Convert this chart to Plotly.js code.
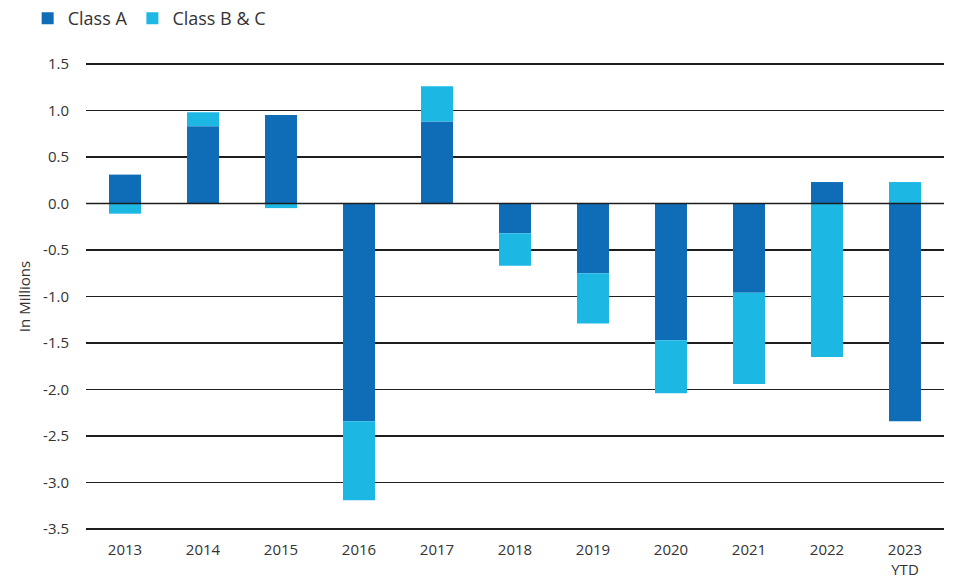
<!DOCTYPE html>
<html>
<head>
<meta charset="utf-8">
<script src="https://cdn.plot.ly/plotly-3.0.1.min.js"></script>
<style>
  html, body { margin: 0; padding: 0; background: #fff; }
  #chart { width: 954px; height: 582px; }
</style>
</head>
<body>
<div id="chart"></div>
<script>
const years = ['2013', '2014', '2015', '2016', '2017', '2018', '2019', '2020', '2021', '2022', '2023<br>YTD'];
const classA = [0.31, 0.83, 0.95, -2.34, 0.88, -0.32, -0.75, -1.47, -0.96, 0.23, -2.34];
const classBC = [-0.11, 0.15, -0.05, -0.85, 0.38, -0.35, -0.54, -0.57, -0.98, -1.65, 0.23];
const yTicks = [1.5, 1.0, 0.5, 0.0, -0.5, -1.0, -1.5, -2.0, -2.5, -3.0, -3.5];

const textColor = '#333333';
const fontFamily = '"Open Sans", "Noto Sans", sans-serif';

const traces = [
    {
        x: years, y: classA, type: 'bar', name: 'Class A',
        marker: { color: '#0f6db7' }, hoverinfo: 'x+y+name'
    },
    {
        x: years, y: classBC, type: 'bar', name: 'Class B & C',
        marker: { color: '#1db7e4' }, hoverinfo: 'x+y+name'
    }
];

const layout = {
    width: 954, height: 582,
    barmode: 'relative',
    bargap: 0.59,
    paper_bgcolor: '#ffffff',
    plot_bgcolor: '#ffffff',
    font: { family: fontFamily, color: textColor, size: 15 },
    margin: { l: 86, r: 10, t: 62, b: 51 },
    showlegend: true,
    legend: {
        orientation: 'h',
        xref: 'container', yref: 'container',
        x: 0.029, y: 1, xanchor: 'left', yanchor: 'top',
        font: { size: 18, color: textColor },
        traceorder: 'normal',
        itemwidth: 30
    },
    xaxis: {
        type: 'category',
        showgrid: false, zeroline: false, showline: false,
        ticks: '', ticklabelstandoff: 8,
        tickfont: { size: 15, color: textColor }
    },
    yaxis: {
        range: [-3.52, 1.52],
        tickvals: yTicks,
        ticktext: yTicks.map(v => v.toFixed(1)),
        showgrid: true, gridcolor: '#1e1e1e', gridwidth: 1.6,
        zeroline: false, showline: false, ticks: '',
        ticklabelstandoff: 16,
        tickfont: { size: 15, color: textColor },
        title: { text: 'In Millions', font: { size: 15, color: textColor }, standoff: 8 }
    },
    shapes: [{
        type: 'line', xref: 'paper', yref: 'y', layer: 'above',
        x0: 0, x1: 1, y0: 0, y1: 0,
        line: { color: '#1e1e1e', width: 1.6 }
    }]
};

Plotly.newPlot('chart', traces, layout, { displayModeBar: false, staticPlot: true });
</script>
</body>
</html>
